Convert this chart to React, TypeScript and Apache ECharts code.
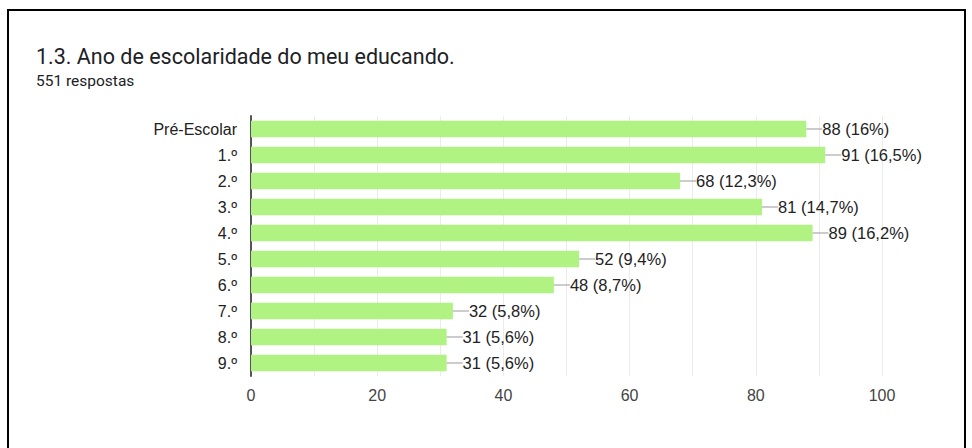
import React, { useEffect, useRef } from "react";
import * as echarts from "echarts";

const categories = ["Pré-Escolar", "1.º", "2.º", "3.º", "4.º", "5.º", "6.º", "7.º", "8.º", "9.º"];
const values = [88, 91, 68, 81, 89, 52, 48, 32, 31, 31];
const percents = ["16%", "16,5%", "12,3%", "14,7%", "16,2%", "9,4%", "8,7%", "5,8%", "5,6%", "5,6%"];
const axisTicks = [0, 20, 40, 60, 80, 100];

export default function App() {
  const ref = useRef<HTMLDivElement>(null);
  useEffect(() => {
    if (!ref.current) return;
    const chart = echarts.init(ref.current, null, { renderer: "svg" });
    chart.setOption({
      animation: false,
      title: [
        {
          text: "1.3. Ano de escolaridade do meu educando.",
          left: 31,
          top: 40,
          padding: [5, 5, 5, 5],
          textStyle: { fontFamily: "Roboto", fontSize: 21.5, fontWeight: "normal", color: "#202124" },
        },
        {
          text: "551 respostas",
          left: 31,
          top: 68,
          textStyle: { fontFamily: "Roboto", fontSize: 15.5, fontWeight: "normal", color: "#202124" },
        },
      ],
      grid: { left: 251, right: 90, top: 116, height: 260, containLabel: false },
      xAxis: {
        type: "value",
        min: 0,
        max: 100,
        interval: 10,
        axisLine: { show: false },
        axisTick: { show: false },
        splitLine: { show: true, lineStyle: { color: "#ebebeb", width: 1 } },
        axisLabel: {
          formatter: (v: number) => (axisTicks.includes(v) ? String(v) : ""),
          fontFamily: "Liberation Sans",
          fontSize: 16,
          color: "#444",
          margin: 11,
        },
      },
      yAxis: {
        type: "category",
        data: categories,
        inverse: true,
        axisLine: { show: true, lineStyle: { color: "#555", width: 2 } },
        axisTick: { show: false },
        axisLabel: { fontFamily: "Liberation Sans", fontSize: 16, color: "#222", margin: 14 },
      },
      series: [
        {
          type: "bar",
          data: values,
          barCategoryGap: "36%",
          itemStyle: { color: "#b0f382" },
          label: {
            show: true,
            position: "right",
            distance: 0,
            formatter: (p: any) => `{l|}{t|${values[p.dataIndex]} (${percents[p.dataIndex]})}`,
            rich: {
              l: { width: 16, height: 1, backgroundColor: "#999" },
              t: { fontFamily: "Liberation Sans", fontSize: 16.5, color: "#222" },
            },
          },
        },
      ],
    });
    return () => chart.dispose();
  }, []);
  return (
    <div style={{ position: "absolute", left: 0, top: 0, width: 972, height: 448, overflow: "hidden", background: "#fff" }}>
      <div
        style={{
          position: "absolute",
          left: 7,
          top: 9,
          width: 959,
          height: 460,
          border: "2px solid #000",
          boxSizing: "border-box",
        }}
      />
      <div ref={ref} style={{ position: "absolute", left: 0, top: 0, width: 972, height: 448 }} />
    </div>
  );
}
